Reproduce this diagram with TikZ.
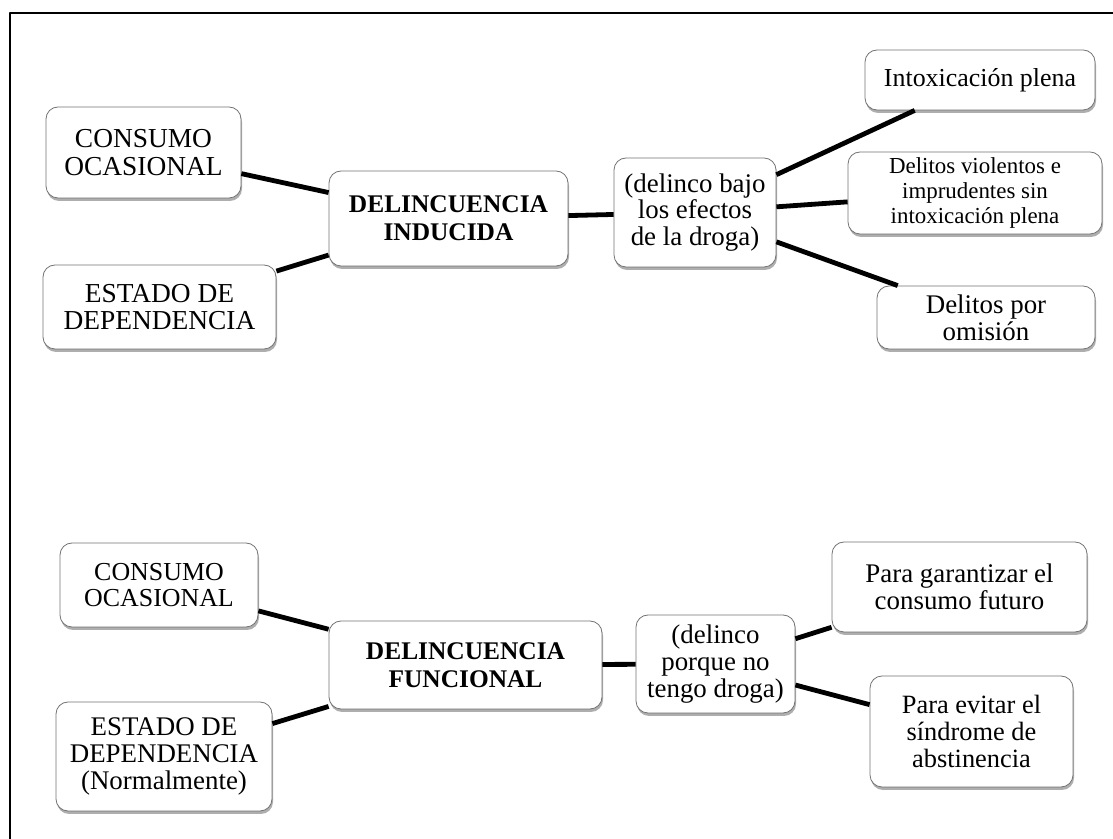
\documentclass[tikz,border=0pt]{standalone}
\usepackage{fontspec}
\setmainfont{Liberation Serif}
\usetikzlibrary{shadows}
\begin{document}
\begin{tikzpicture}[line join=bevel,
  box/.style={draw=black!55,line width=0.8bp,fill=white,rounded corners=12bp,align=center,inner sep=0pt,
    drop shadow={shadow xshift=1bp,shadow yshift=-3bp,opacity=0.45,fill=black!70}},
  link/.style={black,line width=4.8bp}]
%%
\useasboundingbox (0bp,0bp) rectangle (1113bp,839bp);
\draw [black,line width=1.4bp] (10bp,0bp) -- (10bp,826bp) -- (1113bp,826bp);
%
\node (node_cons1) at (143.5bp,686.5bp) [box,minimum width=195bp,minimum height=91bp,font=\fontsize{27.5}{27.5}\selectfont] {CONSUMO\\OCASIONAL};
  \node (node_est1) at (159.5bp,532bp) [box,minimum width=233bp,minimum height=84bp,font=\fontsize{27.5}{27.5}\selectfont] {ESTADO DE\\DEPENDENCIA};
  \node (node_ind) at (448.5bp,620.5bp) [box,minimum width=239bp,minimum height=95bp,font=\fontsize{25.5}{28}\selectfont\bfseries] {DELINCUENCIA\\INDUCIDA};
  \node (node_bajo) at (695bp,626.5bp) [box,minimum width=162bp,minimum height=109bp,font=\fontsize{27}{27}\selectfont] {(delinco bajo\\los efectos\\de la droga)};
  \node (node_intox) at (980bp,759bp) [box,minimum width=230bp,minimum height=60bp,font=\fontsize{26}{26}\selectfont] {Intoxicación plena};
  \node (node_viol) at (975bp,646bp) [box,minimum width=254bp,minimum height=82bp,font=\fontsize{23}{25}\selectfont] {Delitos violentos e\\imprudentes sin\\intoxicación plena};
  \node (node_omis) at (986bp,521.5bp) [box,minimum width=218bp,minimum height=63bp,font=\fontsize{27}{27}\selectfont] {Delitos por\\omisión};
  \draw [link] (node_cons1) -- (node_ind);
  \draw [link] (node_est1) -- (node_ind);
  \draw [link] (node_ind) -- (node_bajo);
  \draw [link] (node_bajo) -- (node_intox);
  \draw [link] (node_bajo) -- (node_viol);
  \draw [link] (node_bajo) -- (node_omis);
%
\node (node_cons2) at (159bp,254bp) [box,minimum width=198bp,minimum height=84bp,font=\fontsize{26}{26}\selectfont] {CONSUMO\\OCASIONAL};
  \node (node_est2) at (164bp,82.5bp) [box,minimum width=216bp,minimum height=109bp,font=\fontsize{27}{27}\selectfont] {ESTADO DE\\DEPENDENCIA\\(Normalmente)};
  \node (node_func) at (465.5bp,174bp) [box,minimum width=273bp,minimum height=88bp,font=\fontsize{25.5}{28}\selectfont\bfseries] {DELINCUENCIA\\FUNCIONAL};
  \node (node_porque) at (715.5bp,175bp) [box,minimum width=159bp,minimum height=98bp,font=\fontsize{27}{27}\selectfont] {(delinco\\porque no\\tengo droga)};
  \node (node_garant) at (959.5bp,252bp) [box,minimum width=255bp,minimum height=90bp,font=\fontsize{27}{27}\selectfont] {Para garantizar el\\consumo futuro};
  \node (node_evitar) at (971.5bp,107.5bp) [box,minimum width=203bp,minimum height=111bp,font=\fontsize{26.5}{26.7}\selectfont] {Para evitar el\\síndrome de\\abstinencia};
  \draw [link] (node_cons2) -- (node_func);
  \draw [link] (node_est2) -- (node_func);
  \draw [link] (node_func) -- (node_porque);
  \draw [link] (node_porque) -- (node_garant);
  \draw [link] (node_porque) -- (node_evitar);
%
\end{tikzpicture}
\end{document}
